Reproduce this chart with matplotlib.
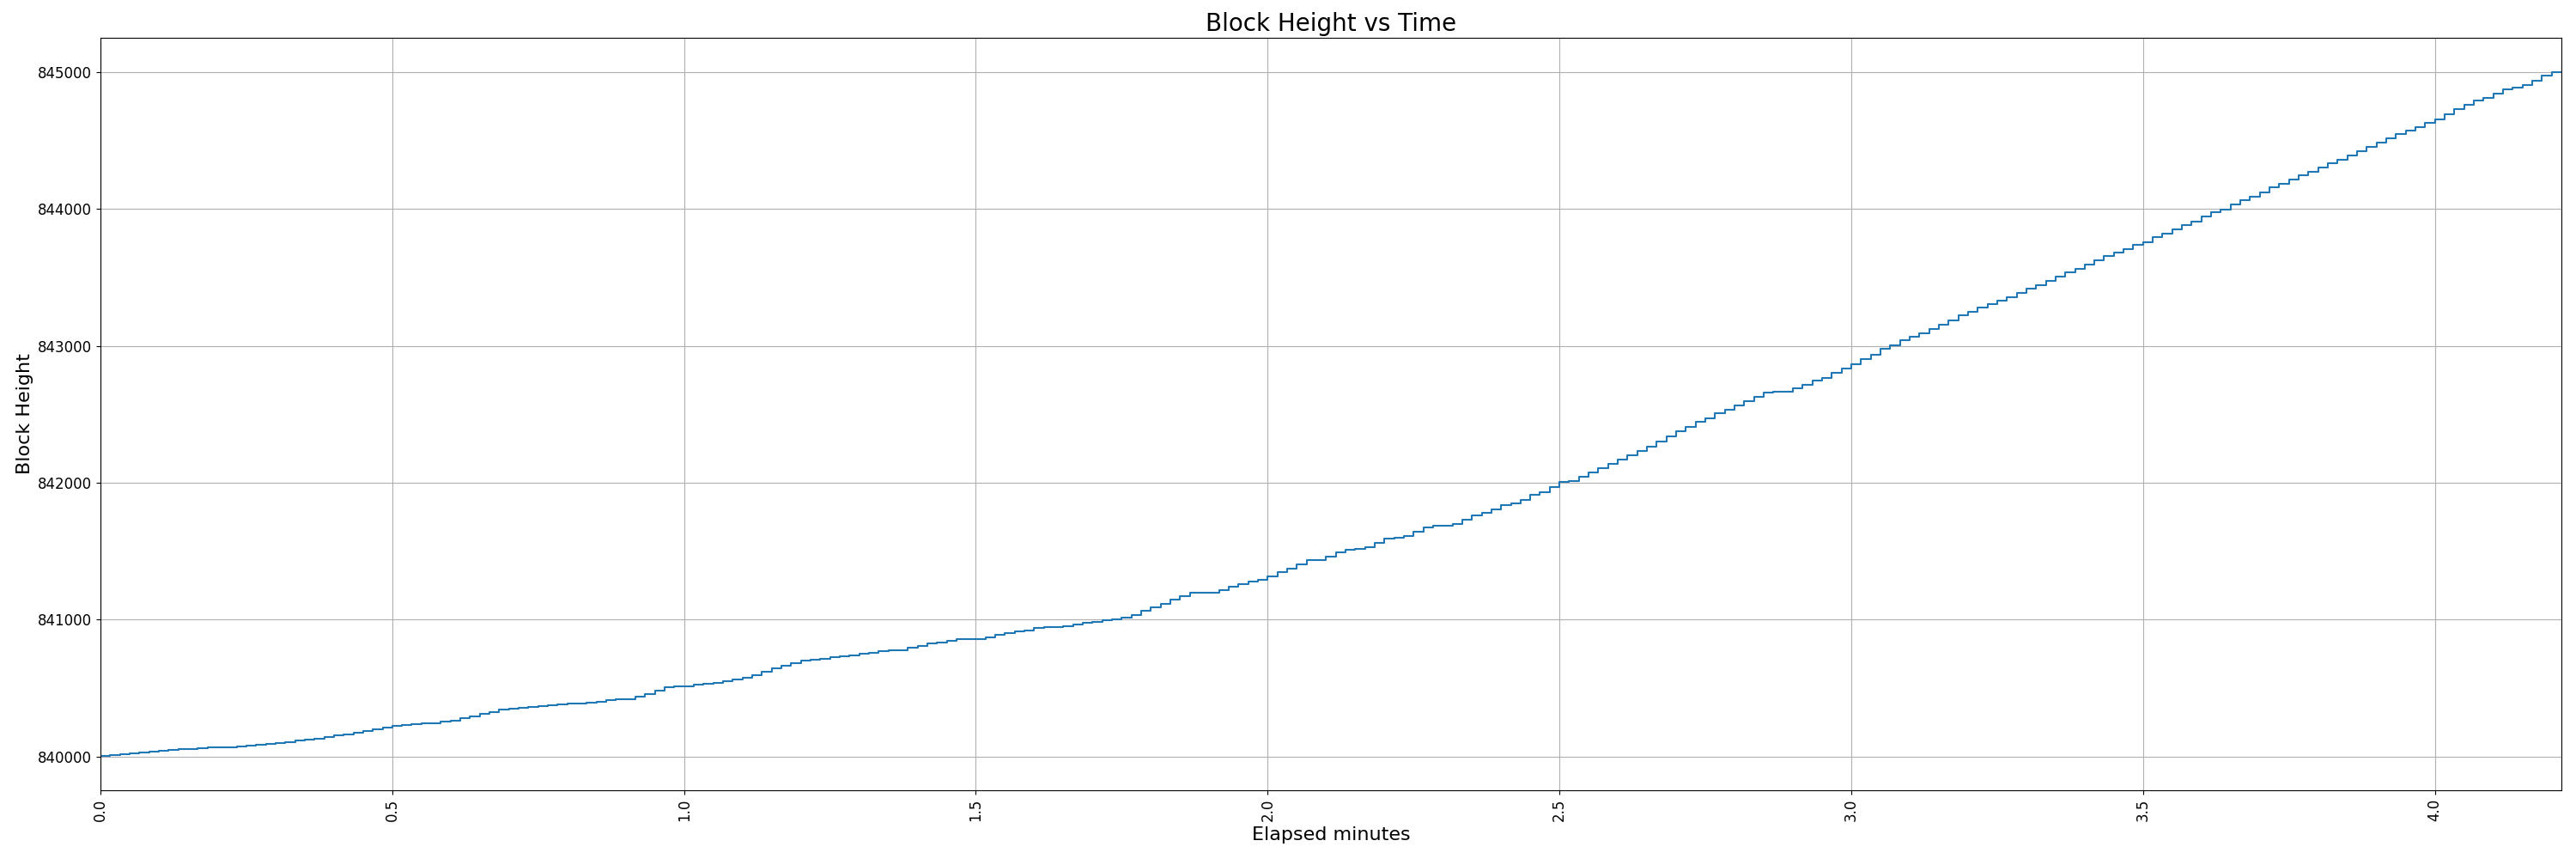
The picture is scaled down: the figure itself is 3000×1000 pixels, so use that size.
import matplotlib
matplotlib.use("Agg")
import matplotlib.pyplot as plt
import numpy as np

# Elapsed time in whole seconds (one sample per second)
elapsed_seconds = list(range(254))

# Block height at each second
block_height = [
    840003, 840010, 840016, 840022, 840030, 840036, 840042, 840048, 840052, 840057,
    840061, 840064, 840067, 840070, 840074, 840078, 840084, 840092, 840100, 840107,
    840114, 840121, 840132, 840142, 840153, 840163, 840174, 840187, 840200, 840212,
    840223, 840232, 840236, 840240, 840244, 840254, 840264, 840280, 840295, 840311,
    840325, 840340, 840350, 840358, 840364, 840370, 840374, 840379, 840384, 840390,
    840396, 840402, 840410, 840416, 840420, 840434, 840455, 840480, 840505, 840510,
    840514, 840522, 840530, 840540, 840551, 840562, 840575, 840597, 840616, 840643,
    840660, 840681, 840698, 840706, 840716, 840727, 840733, 840739, 840750, 840760,
    840769, 840777, 840779, 840792, 840806, 840827, 840835, 840844, 840856, 840856,
    840856, 840867, 840886, 840902, 840915, 840923, 840940, 840944, 840946, 840952,
    840967, 840975, 840986, 840996, 841000, 841017, 841031, 841062, 841090, 841115,
    841146, 841169, 841194, 841196, 841196, 841217, 841240, 841256, 841279, 841290,
    841317, 841346, 841373, 841402, 841433, 841433, 841460, 841490, 841512, 841519,
    841529, 841562, 841592, 841600, 841608, 841642, 841673, 841683, 841683, 841696,
    841727, 841758, 841777, 841806, 841837, 841846, 841877, 841910, 841933, 841969,
    842006, 842010, 842044, 842077, 842108, 842140, 842172, 842200, 842232, 842262,
    842300, 842340, 842378, 842409, 842444, 842472, 842505, 842530, 842563, 842595,
    842624, 842657, 842664, 842664, 842689, 842714, 842747, 842768, 842800, 842833,
    842866, 842902, 842937, 842977, 843006, 843040, 843067, 843092, 843123, 843157,
    843186, 843221, 843246, 843278, 843307, 843332, 843357, 843385, 843415, 843445,
    843475, 843505, 843535, 843565, 843595, 843625, 843654, 843679, 843706, 843738,
    843759, 843792, 843822, 843853, 843883, 843910, 843943, 843977, 843998, 844031,
    844063, 844090, 844122, 844155, 844184, 844212, 844243, 844273, 844304, 844335,
    844361, 844392, 844421, 844455, 844482, 844516, 844547, 844572, 844600, 844629,
    844656, 844694, 844727, 844761, 844792, 844809, 844839, 844874, 844885, 844904,
    844935, 844971, 845000, 845000,
]

minutes = np.array(elapsed_seconds) / 60.0
heights = np.array(block_height)

fig, ax = plt.subplots(figsize=(30, 10), dpi=100)
ax.step(minutes, heights, where="post", color="#1f77b4", linewidth=1.5)
ax.set_xlim(minutes.min(), minutes.max())
ax.set_title("Block Height vs Time", fontsize=20)
ax.set_xlabel("Elapsed minutes", fontsize=16)
ax.set_ylabel("Block Height", fontsize=16)
ax.tick_params(axis="x", labelrotation=90, labelsize=12)
ax.tick_params(axis="y", labelsize=12)
ax.grid(True)
fig.subplots_adjust(left=0.039, right=0.9943, top=0.956, bottom=0.080)
fig.savefig("out.png", dpi=100)
